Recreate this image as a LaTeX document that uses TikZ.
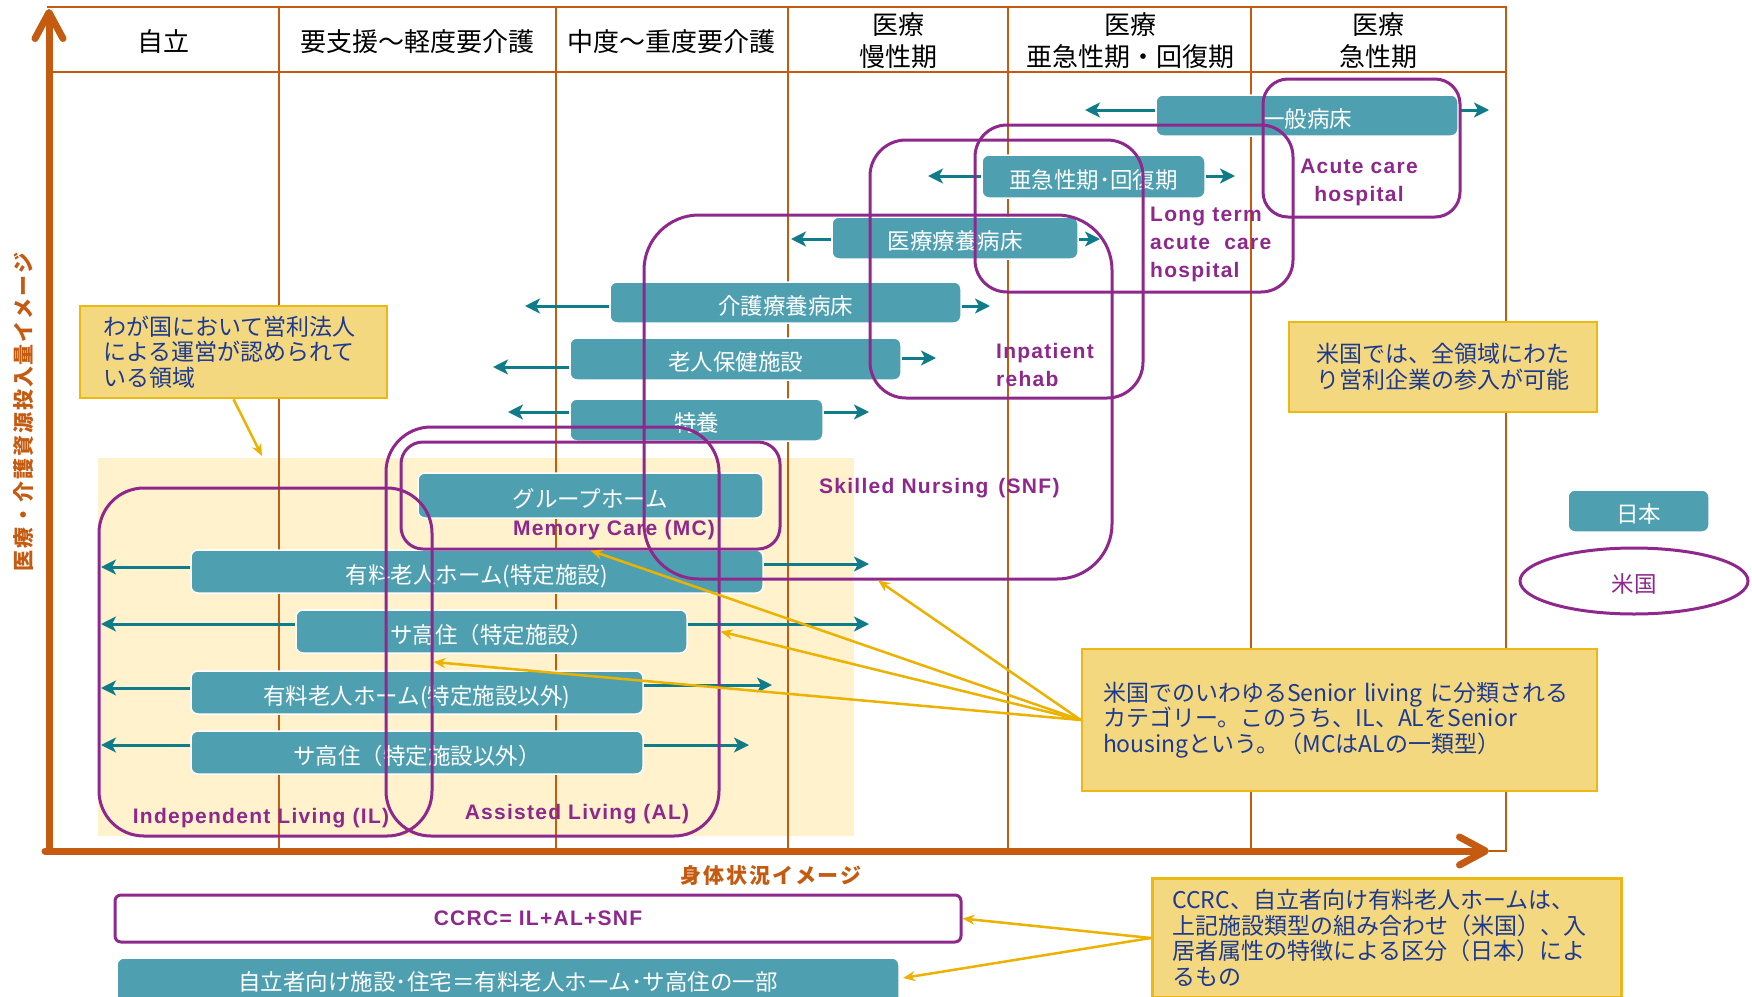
\documentclass[tikz,border=0pt]{standalone}
\usepackage{fontspec}
\setmainfont{Noto Sans CJK JP}
\newfontfamily\labfam[LetterSpace=6.0]{Liberation Sans}
\newfontfamily\cjksp[LetterSpace=9.0]{Noto Sans CJK JP}
\usetikzlibrary{arrows.meta,shapes.geometric}
\definecolor{orng}{RGB}{197,90,17}
\definecolor{tealfill}{RGB}{78,160,176}
\definecolor{tealarr}{RGB}{16,124,138}
\definecolor{purp}{RGB}{142,40,140}
\definecolor{notefill}{RGB}{244,216,128}
\definecolor{noteline}{RGB}{236,184,20}
\definecolor{bgyel}{RGB}{255,242,204}
\definecolor{navy}{RGB}{28,58,145}
\definecolor{gold}{RGB}{236,178,0}
\newcommand{\hdrfont}{\fontsize{26}{32}\selectfont}
\newcommand{\boxfont}{\fontsize{22.5}{26}\selectfont}
\newcommand{\notefont}{\fontsize{23}{25.5}\selectfont}
\newcommand{\labfont}{\labfam\bfseries\fontsize{21}{28}\selectfont}
\tikzset{
  colline/.style={draw=orng, line width=2.5pt},
  tbox/.style={draw=white, line width=1.5pt, fill=tealfill, rounded corners=7pt, text=white, font=\boxfont, inner sep=0pt, text height=24pt, text depth=1pt},
  tarrow/.style={draw=tealarr, line width=3pt, -{Stealth[length=15pt,width=15pt,inset=4pt]}},
  pframe/.style={draw=purp, line width=3pt, inner sep=0pt},
  plabel/.style={text=purp, font=\labfont, inner sep=0pt},
  note/.style={draw=noteline, fill=notefill, line width=2.5pt, text=navy, font=\notefont, inner ysep=0pt},
  garrow/.style={draw=gold, line width=2.5pt, -{Stealth[length=12pt,width=10pt]}},
  axisline/.style={draw=orng, line width=7pt, line cap=round, -{Straight Barb[length=26pt,width=28pt,round]}},
  hdr/.style={font=\hdrfont, align=center, inner sep=0pt},
}
\begin{document}
\begin{tikzpicture}[x=1pt,y=-1pt]
\useasboundingbox (0,0) rectangle (1752,996);
\clip (0,0) rectangle (1752,996);
\fill[white] (0,0) rectangle (1752,996);
% light yellow zone
\node[fill=bgyel, inner sep=0pt, minimum width=756pt, minimum height=378pt] (zone) at (476,647) {};
% table
\draw[colline] (47,7) -- (1506,7) -- (1506,851) -- (1489,851);
\draw[colline] (47,72) -- (1506,72);
\foreach \cx in {279,556,788,1008,1251} { \draw[colline] (\cx,7) -- (\cx,851); }
% headers
\node[hdr] (h1) at (163,42) {自立};
\node[hdr] (h2) at (417,42) {要支援～軽度要介護};
\node[hdr] (h3) at (671,42) {中度～重度要介護};
\node[hdr] (h4) at (898,41) {医療\\慢性期};
\node[hdr] (h5) at (1130,41) {医療\\亜急性期・回復期};
\node[hdr] (h6) at (1378,41) {医療\\急性期};
% teal boxes
\node[tbox, minimum width=302pt, minimum height=41pt] (ippan) at (1307,115.5) {一般病床};
\node[tbox, minimum width=223pt, minimum height=43pt] (akyu) at (1093.5,176.5) {亜急性期･回復期};
\node[tbox, minimum width=246pt, minimum height=42pt] (iryo) at (955,238) {医療療養病床};
\node[tbox, minimum width=351pt, minimum height=41pt] (kaigo) at (785.5,302.5) {介護療養病床};
\node[tbox, minimum width=331pt, minimum height=42pt] (roken) at (735.5,359) {老人保健施設};
\node[tbox, minimum width=253pt, minimum height=42pt] (tokuyo) at (696.5,420) {特養};
\node[tbox, minimum width=345pt, minimum height=45pt] (group) at (590.5,495.5) {グループホーム};
\node[tbox, minimum width=572pt, minimum height=43pt] (yuryoA) at (477,571.5) {有料老人ホーム(特定施設)};
\node[tbox, minimum width=391pt, minimum height=43pt] (sakoA) at (491.5,631.5) {サ高住（特定施設）};
\node[tbox, minimum width=452pt, minimum height=43pt] (yuryoB) at (417,692.5) {有料老人ホーム(特定施設以外)};
\node[tbox, minimum width=452pt, minimum height=43pt] (sakoB) at (417,752.5) {サ高住（特定施設以外）};
% teal arrow end points
\coordinate (ippanL) at (1085,110); \coordinate (ippanR) at (1489,110);
\coordinate (akyuL) at (928,176); \coordinate (akyuR) at (1235,176);
\coordinate (iryoL) at (791,239); \coordinate (iryoR) at (1100,239);
\coordinate (kaigoL) at (525,306); \coordinate (kaigoR) at (990,306);
\coordinate (rokenL) at (493,367); \coordinate (rokenR) at (936,358);
\coordinate (tokuyoL) at (508,412); \coordinate (tokuyoR) at (869,412);
\coordinate (yuryoAL) at (101,567); \coordinate (yuryoAR) at (869,564);
\coordinate (sakoAL) at (101,624); \coordinate (sakoAR) at (869,624);
\coordinate (yuryoBL) at (101,688); \coordinate (yuryoBR) at (772,685);
\coordinate (sakoBL) at (101,745); \coordinate (sakoBR) at (749,745);
\foreach \b in {ippan,akyu,iryo,kaigo,roken,tokuyo,yuryoA,sakoA,yuryoB,sakoB} {
  \draw[tarrow] (\b L -| \b.west) -- (\b L);
  \draw[tarrow] (\b R -| \b.east) -- (\b R);
}
% purple frames
\node[pframe, rounded corners=25pt, minimum width=197pt, minimum height=138pt] (acute) at (1361.5,148) {};
\node[pframe, rounded corners=32pt, minimum width=318pt, minimum height=167pt] (ltach) at (1134,208.5) {};
\node[pframe, rounded corners=36pt, minimum width=273pt, minimum height=258pt] (irf) at (1006.5,269) {};
\node[pframe, rounded corners=55pt, minimum width=468pt, minimum height=364pt] (snf) at (878,397) {};
\node[pframe, rounded corners=22pt, minimum width=379pt, minimum height=107pt] (mc) at (590.5,495.5) {};
\node[pframe, rounded corners=45pt, minimum width=333pt, minimum height=409pt] (al) at (552.5,631.5) {};
\node[pframe, rounded corners=45pt, minimum width=333pt, minimum height=348pt] (il) at (265.5,662) {};
% purple labels
\node[plabel, align=center] (labacute) at (1359,182) {Acute care\\hospital};
\node[plabel, align=left, anchor=west] (labltach) at (1150,244) {Long term\\acute\ \ care\\hospital};
\node[plabel, align=left, anchor=west] (labirf) at (996,365) {Inpatient\\rehab};
\node[plabel, anchor=west] (labsnf) at (819,488) {Skilled Nursing\hspace{10pt}(SNF)};
\node[plabel] (labmc) at (614,530) {Memory Care (MC)};
\node[plabel] (labal) at (577,814) {Assisted Living (AL)};
\node[plabel] (labil) at (261,818) {Independent Living (IL)};
% legend
\node[tbox, minimum width=141pt, minimum height=42pt] (legjp) at (1638.5,511) {日本};
\node[draw=purp, line width=3pt, ellipse, inner sep=0pt, minimum width=228pt, minimum height=66pt, text=purp, font=\boxfont, text height=24pt, text depth=1pt] (legus) at (1634,581) {米国};
% bottom boxes
\node[draw=purp, line width=3pt, fill=white, rounded corners=6pt, minimum width=846pt, minimum height=47pt, inner sep=0pt, text=purp, font=\labfont] (ccrc) at (538,918.5) {CCRC= IL+AL+SNF};
\node[tbox, minimum width=782pt, minimum height=52pt] (jiritsu) at (508,984) {\raisebox{5pt}{自立者向け施設･住宅＝有料老人ホーム･サ高住の一部}};
% notes
\node[note, inner xsep=23pt, text width=261pt, minimum height=92pt, align=left] (noteA) at (233.5,352) {わが国において営利法人\\による運営が認められて\\いる領域};
\node[note, inner xsep=14pt, text width=280pt, minimum height=90pt, align=center] (noteB) at (1443,367) {米国では、全領域にわた\\り営利企業の参入が可能};
\node[note, inner xsep=21pt, text width=473pt, minimum height=142pt, align=left] (noteC) at (1339.5,720) {米国でのいわゆるSenior living に分類される\\カテゴリー。このうち、IL、ALをSenior\\housingという。（MCはALの一類型）};
\node[note, inner xsep=20pt, inner ysep=11pt, text width=429pt, align=left, anchor=north west] (noteD) at (1151,877) {CCRC、自立者向け有料老人ホームは、\\上記施設類型の組み合わせ（米国）、入\\居者属性の特徴による区分（日本）によ\\るもの\\[8pt]};
% gold arrows
\coordinate (zonetop) at (262,456);
\draw[garrow] (noteA.south) -- (zonetop);
\draw[garrow] (noteC.west) -- (snf.south);
\draw[garrow] (noteC.west) -- (mc.south);
\draw[garrow] (noteC.west) -- (al.east);
\draw[garrow] (noteC.west) -- (il.east);
\coordinate (dsrc) at (1151,938);
\coordinate (jiritsuR) at (903,978);
\draw[garrow] (dsrc) -- (ccrc.east);
\draw[garrow] (dsrc) -- (jiritsuR);
% axes
\coordinate (origin) at (49,851);
\coordinate (ytip) at (49,9);
\coordinate (xtip) at (1489,851);
\draw[axisline] (origin) -- (ytip);
\draw[axisline] (45,851) -- (xtip);
\node[text=orng, font=\cjksp\bfseries\fontsize{21}{24}\selectfont, rotate=90, inner sep=0pt] (ylab) at (24,412) {医療・介護資源投入量イメージ};
\node[text=orng, font=\cjksp\bfseries\fontsize{21}{24}\selectfont, inner sep=0pt] (xlab) at (771,875) {身体状況イメージ};
\end{tikzpicture}
\end{document}
